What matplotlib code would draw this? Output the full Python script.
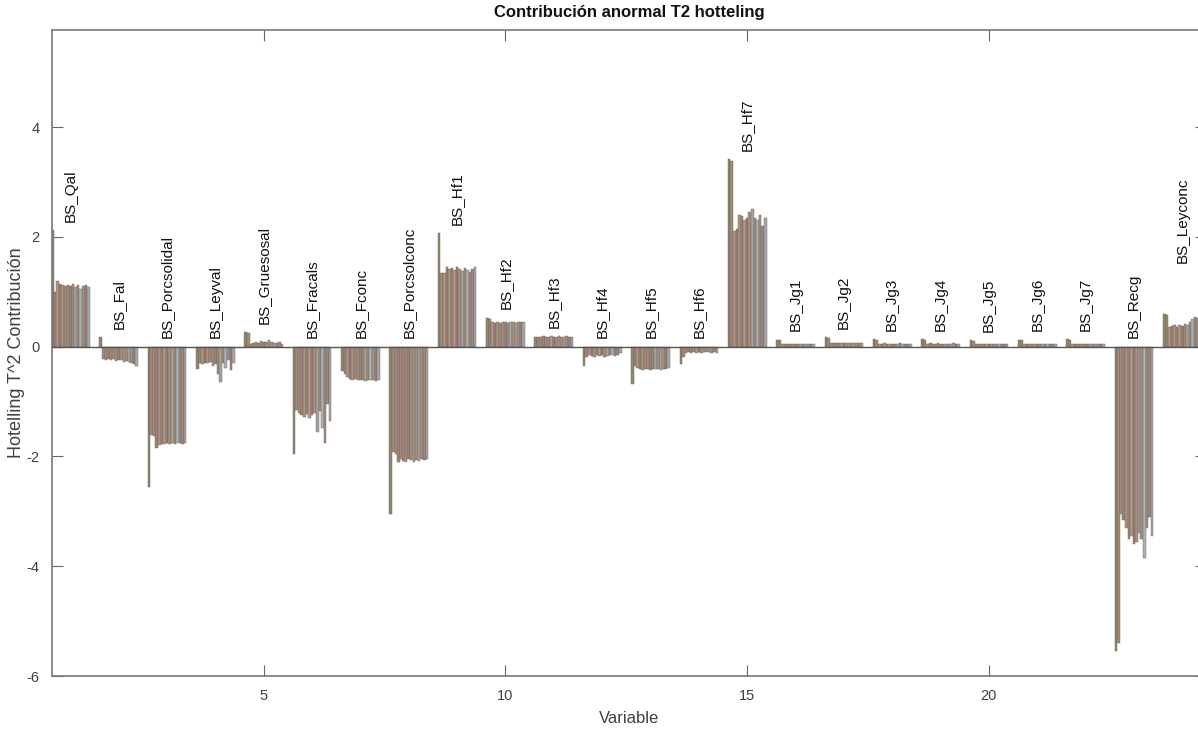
import numpy as np
import matplotlib.pyplot as plt

plt.rcParams['font.family'] = ['Liberation Sans', 'DejaVu Sans']
plt.rcParams['axes.unicode_minus'] = False

variables = ['BS_Qal', 'BS_Fal', 'BS_Porcsolidal', 'BS_Leyval', 'BS_Gruesosal',
             'BS_Fracals', 'BS_Fconc', 'BS_Porcsolconc', 'BS_Hf1', 'BS_Hf2',
             'BS_Hf3', 'BS_Hf4', 'BS_Hf5', 'BS_Hf6', 'BS_Hf7',
             'BS_Jg1', 'BS_Jg2', 'BS_Jg3', 'BS_Jg4', 'BS_Jg5', 'BS_Jg6', 'BS_Jg7',
             'BS_Recg', 'BS_Leyconc']

# T^2 contribution of each abnormal observation (15 per variable)
qal = [2.12, 1.0, 1.2, 1.15, 1.12, 1.1, 1.13, 1.1, 1.15, 1.08, 1.12, 1.05, 1.1, 1.12, 1.08]
fal = [0.18, -0.22, -0.24, -0.22, -0.25, -0.23, -0.26, -0.24, -0.25, -0.27, -0.26, -0.28, -0.3, -0.32, -0.35]
porcsolidal = [-2.55, -1.6, -1.62, -1.85, -1.8, -1.78, -1.78, -1.76, -1.78, -1.75, -1.77, -1.76, -1.75, -1.77, -1.75]
leyval = [-0.4, -0.3, -0.32, -0.3, -0.3, -0.28, -0.35, -0.32, -0.5, -0.65, -0.3, -0.38, -0.25, -0.42, -0.3]
gruesosal = [0.27, 0.25, 0.05, 0.06, 0.08, 0.07, 0.1, 0.08, 0.09, 0.12, 0.08, 0.07, 0.06, 0.09, 0.05]
fracals = [-1.95, -1.15, -1.2, -1.25, -1.28, -1.22, -1.3, -1.25, -1.2, -1.55, -1.18, -1.48, -1.75, -1.05, -1.35]
fconc = [-0.45, -0.5, -0.55, -0.58, -0.6, -0.59, -0.6, -0.61, -0.6, -0.62, -0.6, -0.61, -0.6, -0.62, -0.6]
porcsolconc = [-3.05, -1.92, -1.95, -2.1, -2.05, -2.08, -2.1, -2.05, -2.07, -2.1, -2.06, -2.08, -2.05, -2.07, -2.05]
hf1 = [2.07, 1.35, 1.35, 1.45, 1.42, 1.43, 1.4, 1.45, 1.42, 1.38, 1.43, 1.4, 1.36, 1.42, 1.45]
hf2 = [0.53, 0.5, 0.45, 0.44, 0.45, 0.44, 0.45, 0.45, 0.44, 0.45, 0.45, 0.44, 0.45, 0.45, 0.45]
hf3 = [0.18, 0.17, 0.18, 0.19, 0.18, 0.18, 0.19, 0.18, 0.18, 0.19, 0.18, 0.18, 0.19, 0.18, 0.17]
hf4 = [-0.35, -0.18, -0.15, -0.17, -0.18, -0.16, -0.17, -0.15, -0.18, -0.17, -0.16, -0.15, -0.17, -0.16, -0.12]
hf5 = [-0.68, -0.35, -0.38, -0.4, -0.42, -0.4, -0.41, -0.42, -0.4, -0.41, -0.4, -0.42, -0.41, -0.4, -0.38]
hf6 = [-0.32, -0.18, -0.12, -0.1, -0.11, -0.1, -0.12, -0.1, -0.11, -0.1, -0.09, -0.1, -0.11, -0.09, -0.12]
hf7 = [3.42, 3.38, 2.1, 2.15, 2.4, 2.38, 2.3, 2.35, 2.45, 2.5, 2.35, 2.3, 2.4, 2.2, 2.35]
jg1 = [0.13, 0.12, 0.05, 0.04, 0.05, 0.04, 0.05, 0.04, 0.05, 0.04, 0.05, 0.04, 0.04, 0.05, 0.04]
jg2 = [0.17, 0.15, 0.07, 0.06, 0.07, 0.06, 0.07, 0.06, 0.07, 0.06, 0.07, 0.06, 0.06, 0.07, 0.06]
jg3 = [0.14, 0.12, 0.05, 0.05, 0.06, 0.05, 0.05, 0.04, 0.05, 0.05, 0.06, 0.05, 0.04, 0.05, 0.05]
jg4 = [0.14, 0.13, 0.05, 0.06, 0.05, 0.05, 0.06, 0.05, 0.05, 0.04, 0.05, 0.05, 0.06, 0.05, 0.04]
jg5 = [0.12, 0.11, 0.04, 0.05, 0.04, 0.05, 0.04, 0.04, 0.05, 0.04, 0.05, 0.04, 0.04, 0.05, 0.04]
jg6 = [0.13, 0.12, 0.05, 0.04, 0.05, 0.05, 0.04, 0.05, 0.05, 0.04, 0.05, 0.05, 0.04, 0.05, 0.04]
jg7 = [0.14, 0.12, 0.05, 0.05, 0.04, 0.05, 0.05, 0.04, 0.05, 0.05, 0.04, 0.05, 0.05, 0.04, 0.05]
recg = [-5.55, -5.4, -3.05, -3.15, -3.3, -3.5, -3.45, -3.6, -3.55, -3.4, -3.5, -3.85, -3.3, -3.1, -3.45]
leyconc = [0.6, 0.58, 0.35, 0.38, 0.4, 0.36, 0.4, 0.38, 0.42, 0.4, 0.45, 0.5, 0.55, 0.52, 1.38]

contrib = np.array([qal, fal, porcsolidal, leyval, gruesosal, fracals, fconc,
                    porcsolconc, hf1, hf2, hf3, hf4, hf5, hf6, hf7,
                    jg1, jg2, jg3, jg4, jg5, jg6, jg7, recg, leyconc])

# one colour per observation, like a grouped bar chart
obs_colors = ['#8b8a70', '#a38a7c', '#b49488', '#9a8676', '#ad9284',
              '#a08a7e', '#b39a8c', '#988474', '#ab8f83', '#9ea8a2',
              '#a7907f', '#a9b4ba', '#a98f80', '#9b8a7c', '#a2a9b6']

n_var, n_obs = contrib.shape
x = np.arange(1, n_var + 1)
group_w = 0.8
slot = group_w / n_obs

fig = plt.figure(figsize=(11.98, 7.35), dpi=100)
ax = fig.add_axes([52 / 1198, 59 / 735, 1154 / 1198, 646 / 735])

for j in range(n_obs):
    xpos = x - group_w / 2 + (j + 0.5) * slot
    ax.bar(xpos, contrib[:, j], width=slot, color=obs_colors[j],
           edgecolor='#6f5e55', linewidth=0.3, zorder=2)

ax.axhline(0, color='#555555', linewidth=1.0, zorder=3)

# variable names written above each group
for i, name in enumerate(variables):
    top = max(contrib[i].max(), 0)
    ax.text(x[i], top + 0.15, name, rotation=90, ha='center', va='bottom',
            fontsize=11, color='#111111', zorder=4)

ax.set_xlim(0.62, 24.49)
ax.set_ylim(-6, 5.77)
ax.set_xticks([5, 10, 15, 20])
ax.set_yticks([-6, -4, -2, 0, 2, 4])

ax.tick_params(direction='in', length=8, width=0.8, color='#666666',
               labelsize=10.5, labelcolor='#404040', top=True, right=True, pad=9)
for s in ax.spines.values():
    s.set_color('#777777')
    s.set_linewidth(1.2)

ax.set_xlabel('Variable', fontsize=12, color='#404040', labelpad=6)
ax.set_ylabel('Hotelling T^2 Contribución', fontsize=13, color='#404040', labelpad=1)
ax.set_title('Contribución anormal T2 hotteling', fontsize=12, fontweight='bold',
             color='#111111', pad=9)

fig.savefig('out.png', dpi=100)
